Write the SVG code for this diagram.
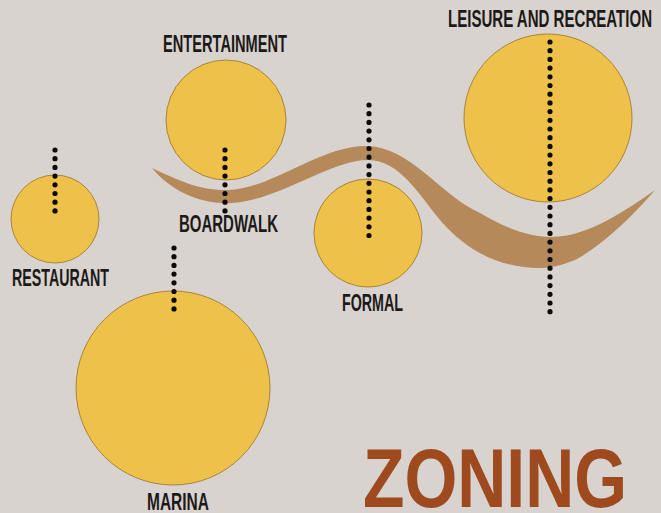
<svg xmlns="http://www.w3.org/2000/svg" width="661" height="513" viewBox="0 0 661 513">
<style>
.zone{fill:#eec24a;stroke:#a8843a;stroke-width:1}
.dots{stroke:#0d0b0a;stroke-width:5.2;stroke-linecap:round;stroke-dasharray:0 8.7;fill:none}
.lbl{font-family:"Liberation Sans","DejaVu Sans",sans-serif;font-weight:bold;font-size:23px;fill:#1c1a18;text-anchor:start}
.title{font-family:"Liberation Sans","DejaVu Sans",sans-serif;font-weight:bold;font-size:83px;fill:#9e4a1e}
</style>
<rect width="661" height="513" fill="#d8d3ce"/>
<g id="wave">
<path d="M152,168 C185,184 205,191 230,190 C275,187 320,146 366,146 C410,146 440,195 480,213 C505,228 530,237 550,237 C580,237 610,222 655,190 C628,222 595,250 575,260 C560,266 550,268 540,268 C505,268 470,255 440,220 C420,196 400,160 368,160 C330,160 280,200 232,203 C200,205 170,190 152,168 Z" fill="#b5895a"/>
</g>
<g id="leisure">
<circle class="zone" cx="548" cy="118" r="84"/>
<text class="lbl" x="448" y="27" textLength="204" lengthAdjust="spacingAndGlyphs">LEISURE AND RECREATION</text>
</g>
<g id="entertainment">
<circle class="zone" cx="226" cy="120" r="60"/>
<text class="lbl" x="163" y="52" textLength="124" lengthAdjust="spacingAndGlyphs">ENTERTAINMENT</text>
</g>
<g id="restaurant">
<circle class="zone" cx="55" cy="219" r="44"/>
<text class="lbl" x="12" y="286" textLength="97" lengthAdjust="spacingAndGlyphs">RESTAURANT</text>
</g>
<g id="formal">
<circle class="zone" cx="368" cy="233" r="54"/>
<text class="lbl" x="342" y="311" textLength="61" lengthAdjust="spacingAndGlyphs">FORMAL</text>
</g>
<g id="boardwalk">
<text class="lbl" x="179" y="232" textLength="99" lengthAdjust="spacingAndGlyphs">BOARDWALK</text>
</g>
<g id="marina">
<circle class="zone" cx="173" cy="388" r="97"/>
<text class="lbl" x="147" y="510" textLength="62" lengthAdjust="spacingAndGlyphs">MARINA</text>
</g>
<g id="connectors">
<line class="dots" x1="55" y1="150" x2="55" y2="212"/>
<line class="dots" x1="225" y1="150" x2="225" y2="212"/>
<line class="dots" x1="369" y1="105" x2="369" y2="236"/>
<line class="dots" x1="550" y1="42" x2="550" y2="318"/>
<line class="dots" x1="174" y1="248" x2="174" y2="311"/>
</g>
<g id="title">
<text class="title" x="363" y="507" textLength="264" lengthAdjust="spacingAndGlyphs">ZONING</text>
</g>
</svg>
